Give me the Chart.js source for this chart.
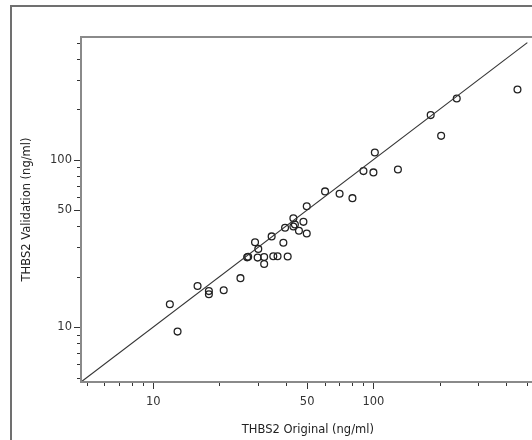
<!DOCTYPE html>
<html>
<head>
<meta charset="utf-8">
<script src="https://cdn.jsdelivr.net/npm/chart.js@4/dist/chart.umd.min.js"></script>
<style>
  html, body { margin: 0; padding: 0; background: #fff; overflow: hidden; }
  body { width: 532px; height: 440px; position: relative; }
  #frame { position: absolute; left: 10px; top: 5px; width: 600px; height: 500px;
           border-top: 2px solid #707070; border-left: 2px solid #707070; }
  #wrap { position: absolute; left: 0; top: 0; width: 540px; height: 440px; }
</style>
</head>
<body>
<div id="frame"></div>
<div id="wrap"><canvas id="chart" width="540" height="440"></canvas></div>
<script>
// THBS2 original vs validation measurements (ng/ml)
const original = [11.9, 12.9, 15.9, 17.9, 17.9, 20.9, 24.9, 26.7, 27.0, 29.0, 30.0, 29.8, 31.9, 31.9,
  35.1, 36.7, 34.5, 39.0, 40.8, 39.7, 43.3, 44.0, 43.3, 45.9, 48.1, 49.8, 49.8,
  60.3, 70.2, 80.3, 90.1, 100, 101.5, 129.2, 182, 203, 239, 451];
const validation = [13.7, 9.4, 17.6, 16.4, 15.7, 16.6, 19.6, 26.1, 26.3, 32.1, 29.3, 26.0, 26.2, 23.8,
  26.5, 26.5, 34.8, 31.9, 26.4, 39.2, 39.9, 41.0, 44.6, 37.6, 42.5, 36.2, 52.7,
  64.6, 62.5, 58.9, 85.4, 83.9, 110.4, 87.4, 184.5, 138.7, 232, 262.5];

const identityLine = [4.7, 500];
const labeledTicks = [10, 50, 100];
const tickValues = [5, 6, 7, 8, 9, 10, 20, 30, 40, 50, 60, 70, 80, 90, 100, 200, 300, 400, 500];
const axisMin = 4.7;
const axisMax = 540;

const font = { family: 'DejaVu Sans', size: 11.5 };

const points = original.map((v, i) => ({ x: v, y: validation[i] }));

// plot frame + tick marks of two lengths
const axisDecor = {
  id: 'axisDecor',
  afterDraw(chart) {
    const { ctx, chartArea: a, scales: { x, y } } = chart;
    ctx.save();
    ctx.strokeStyle = '#8a8a8a';
    ctx.lineWidth = 2;
    ctx.strokeRect(a.left, a.top, a.right - a.left, a.bottom - a.top);
    ctx.strokeStyle = '#333';
    ctx.lineWidth = 1;
    ctx.beginPath();
    tickValues.forEach(v => {
      const len = labeledTicks.includes(v) ? 6 : 3;
      const px = Math.round(x.getPixelForValue(v)) + 0.5;
      ctx.moveTo(px, a.bottom + 1);
      ctx.lineTo(px, a.bottom + 1 + len);
      const py = Math.round(y.getPixelForValue(v)) + 0.5;
      ctx.moveTo(a.left - 1, py);
      ctx.lineTo(a.left - 1 - len, py);
    });
    ctx.stroke();
    ctx.restore();
  }
};

function logAxis(title, isX) {
  return {
    type: 'logarithmic',
    min: axisMin,
    max: axisMax,
    border: { display: false },
    grid: { display: false, drawTicks: true, tickLength: 6 },
    afterBuildTicks: scale => {
      scale.ticks = tickValues.map(v => ({ value: v }));
    },
    afterFit: scale => {
      if (isX) scale.height = 58; else scale.width = 81;
    },
    ticks: {
      autoSkip: false,
      maxRotation: 0,
      padding: isX ? 7 : 3,
      color: '#333',
      font: font,
      callback: v => labeledTicks.includes(v) ? String(v) : ''
    },
    title: {
      display: true,
      text: title,
      color: '#222',
      font: font,
      padding: isX ? { top: 0, bottom: 3 } : { top: 20, bottom: 0 }
    }
  };
}

new Chart(document.getElementById('chart'), {
  type: 'scatter',
  data: {
    datasets: [
      {
        type: 'line',
        data: identityLine.map(v => ({ x: v, y: v })),
        borderColor: '#333',
        borderWidth: 1.1,
        pointRadius: 0,
        fill: false
      },
      {
        data: points,
        pointRadius: 3.4,
        pointBorderWidth: 1.3,
        pointBorderColor: '#222',
        pointBackgroundColor: 'rgba(0,0,0,0)'
      }
    ]
  },
  options: {
    responsive: false,
    animation: false,
    layout: { padding: { top: 37, right: 5, left: 0, bottom: 0 } },
    plugins: { legend: { display: false }, tooltip: { enabled: false } },
    scales: {
      x: logAxis('THBS2 Original (ng/ml)', true),
      y: logAxis('THBS2 Validation (ng/ml)', false)
    }
  },
  plugins: [axisDecor]
});
</script>
</body>
</html>
